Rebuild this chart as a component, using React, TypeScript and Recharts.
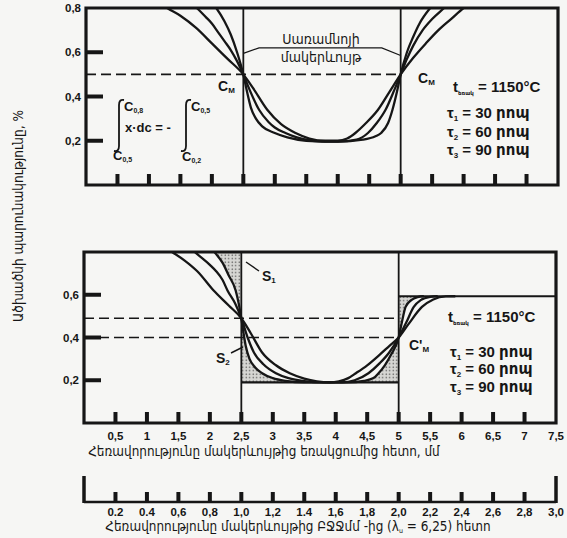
import React from 'react';
import { ComposedChart, Line, Area, XAxis, YAxis, ReferenceLine, ReferenceArea } from 'recharts';

type Pt = [number, number];

// ---- axes ----
const X_MAX = 7.5;
const Y_MAX = 0.8;
const mmTicks = [0.5, 1, 1.5, 2, 2.5, 3, 3.5, 4, 4.5, 5, 5.5, 6, 6.5, 7, 7.5];
const mmTickLabels = ['0,5', '1', '1,5', '2', '2,5', '3', '3,5', '4', '4,5', '5', '5,5', '6', '6,5', '7', '7,5'];
const REL_MAX = 3.0;
const relTicks = [0.2, 0.4, 0.6, 0.8, 1.0, 1.2, 1.4, 1.6, 1.8, 2.0, 2.2, 2.4, 2.6, 2.8, 3.0];
const relTickLabels = ['0.2', '0.4', '0,6', '0,8', '1,0', '1,2', '1.4', '1,6', '1,8', '2,0', '2,2', '2,4', '2,6', '2,8', '3,0'];
const topYTicks = [0.2, 0.4, 0.6, 0.8];
const topYTickLabels = ['0,2', '0,4', '0,6', '0,8'];
const bottomYTicks = [0.2, 0.4, 0.6];
const bottomYTickLabels = ['0,2', '0,4', '0,6'];

// ---- reference levels ----
const interfaces = [2.5, 5];
const topCM = 0.5;
const bottomDashes = [0.49, 0.4];
const bottomFloor = 0.19;
const bottomPlateau = 0.593;
const surfaceLeader: Pt[] = [[2.5, 0.595], [2.75, 0.62], [4.7, 0.62], [5.0, 0.585]];

// ---- top panel: carbon profiles ----
const topTau1: Pt[] = [[1.95, 0.84], [2.07, 0.8], [2.2, 0.74], [2.3, 0.68], [2.4, 0.6], [2.5, 0.5], [2.56, 0.42], [2.62, 0.35], [2.7, 0.3], [2.8, 0.265], [3.0, 0.235], [3.2, 0.215], [3.5, 0.2], [4.0, 0.196], [4.4, 0.205], [4.6, 0.22], [4.69, 0.235], [4.8, 0.28], [4.87, 0.34], [4.94, 0.42], [5.0, 0.5], [5.1, 0.6], [5.2, 0.67], [5.3, 0.73], [5.47, 0.8], [5.56, 0.83]];
const topTau2: Pt[] = [[1.6, 0.84], [1.76, 0.8], [1.9, 0.76], [2.0, 0.73], [2.1, 0.69], [2.2, 0.65], [2.3, 0.61], [2.4, 0.56], [2.5, 0.5], [2.6, 0.43], [2.75, 0.34], [2.9, 0.285], [3.0, 0.26], [3.17, 0.235], [3.35, 0.215], [3.6, 0.2], [4.0, 0.196], [4.3, 0.205], [4.48, 0.235], [4.62, 0.28], [4.76, 0.34], [4.9, 0.43], [5.0, 0.5], [5.1, 0.57], [5.2, 0.63], [5.35, 0.7], [5.5, 0.75], [5.69, 0.8], [5.8, 0.83]];
const topTau3: Pt[] = [[1.1, 0.84], [1.29, 0.8], [1.5, 0.765], [1.75, 0.71], [2.0, 0.64], [2.25, 0.57], [2.5, 0.5], [2.65, 0.44], [2.88, 0.34], [3.1, 0.275], [3.33, 0.235], [3.55, 0.21], [3.8, 0.2], [4.0, 0.2], [4.15, 0.21], [4.28, 0.235], [4.45, 0.28], [4.64, 0.34], [4.82, 0.42], [5.0, 0.5], [5.2, 0.575], [5.4, 0.64], [5.6, 0.7], [5.8, 0.75], [6.0, 0.8], [6.15, 0.83]];

// ---- bottom panel: carbon profiles ----
const botTau1: Pt[] = [[1.95, 0.84], [2.1, 0.79], [2.2, 0.75], [2.3, 0.69], [2.41, 0.62], [2.5, 0.49], [2.53, 0.43], [2.57, 0.36], [2.63, 0.3], [2.72, 0.26], [2.83, 0.233], [3.0, 0.21], [3.2, 0.197], [3.5, 0.19], [4.2, 0.19], [4.45, 0.197], [4.6, 0.21], [4.68, 0.233], [4.78, 0.27], [4.88, 0.32], [5.0, 0.4], [5.05, 0.47], [5.11, 0.543], [5.2, 0.575], [5.3, 0.589], [5.4, 0.593]];
const botTau2: Pt[] = [[1.6, 0.84], [1.8, 0.79], [2.0, 0.74], [2.1, 0.71], [2.2, 0.67], [2.28, 0.62], [2.4, 0.56], [2.5, 0.49], [2.6, 0.4], [2.7, 0.33], [2.85, 0.275], [3.05, 0.233], [3.25, 0.21], [3.5, 0.196], [3.8, 0.19], [4.1, 0.19], [4.3, 0.2], [4.52, 0.233], [4.7, 0.28], [4.85, 0.33], [5.0, 0.4], [5.12, 0.47], [5.24, 0.543], [5.35, 0.575], [5.5, 0.59], [5.62, 0.593]];
const botTau3: Pt[] = [[1.2, 0.84], [1.4, 0.8], [1.6, 0.76], [1.8, 0.71], [2.06, 0.62], [2.3, 0.55], [2.5, 0.49], [2.65, 0.42], [2.83, 0.33], [3.05, 0.27], [3.27, 0.233], [3.5, 0.208], [3.7, 0.195], [3.9, 0.19], [4.05, 0.195], [4.2, 0.21], [4.32, 0.233], [4.5, 0.27], [4.7, 0.32], [4.85, 0.36], [5.0, 0.4], [5.15, 0.46], [5.37, 0.543], [5.55, 0.578], [5.75, 0.592], [5.9, 0.593]];

const INK = '#161616';
const NUM_FONT = '"Liberation Sans", Arial, "DejaVu Sans", sans-serif';
const ARM_FONT = '"DejaVu Sans Condensed", "DejaVu Sans", sans-serif';

const rows = (pts: Pt[]) => pts.map(([x, y]) => ({ x, y }));
const rangeRows = (pts: Pt[], x0: number, x1: number, lo: number | null, hi: number | null) =>
  pts.filter(([x]) => x >= x0 && x <= x1).map(([x, y]) => ({ x, range: [lo ?? y, hi ?? y] }));

const makeXTick = (labels: boolean) => (p: any) => {
  const v = p.payload.value;
  const i = mmTicks.indexOf(v);
  return (
    <g>
      {v < X_MAX && <line x1={p.x} x2={p.x} y1={p.y} y2={p.y - 11} stroke={INK} strokeWidth={4} />}
      {labels && (
        <text x={p.x} y={p.y + 17} textAnchor="middle" fontFamily={NUM_FONT} fontWeight="bold" fontSize={11.5} fill={INK}>
          {mmTickLabels[i]}
        </text>
      )}
    </g>
  );
};

const makeYTick = (ticks: number[], labels: string[]) => (p: any) => {
  const v = p.payload.value;
  const i = ticks.indexOf(v);
  return (
    <g>
      {v < Y_MAX && <line x1={p.x} x2={p.x + 17} y1={p.y} y2={p.y} stroke={INK} strokeWidth={4} />}
      <text x={p.x - 5} y={p.y + 4} textAnchor="end" fontFamily={NUM_FONT} fontWeight="bold" fontSize={11.5} fill={INK}>
        {labels[i]}
      </text>
    </g>
  );
};

const RelTick = (p: any) => {
  const v = p.payload.value;
  const i = relTicks.indexOf(v);
  const isEnd = v <= 0 || v >= REL_MAX;
  return (
    <g>
      <line x1={p.x} x2={p.x} y1={p.y + 1} y2={p.y - (isEnd ? 26 : 10)} stroke={INK} strokeWidth={isEnd ? 3.5 : 4} />
      {i >= 0 && (
        <text x={p.x} y={p.y + 14} textAnchor="middle" fontFamily={NUM_FONT} fontWeight="bold" fontSize={11.5} fill={INK}>
          {relTickLabels[i]}
        </text>
      )}
    </g>
  );
};

const curve = (pts: Pt[], key: string, xAxisId: string | number = 0) => (
  <Line key={key} xAxisId={xAxisId} data={rows(pts)} dataKey="y" type="monotone" dot={false} activeDot={false} stroke={INK} strokeWidth={2.3} isAnimationActive={false} />
);

const stipple = (data: any[], key: string) => (
  <Area key={key} xAxisId="mm" data={data} dataKey="range" type="monotone" stroke="none" fill="url(#stip)" fillOpacity={1} isAnimationActive={false} />
);

export default function App() {
  return (
    <div style={{ position: 'absolute', left: 0, top: 0, width: 567, height: 538, background: '#f6f6f4', overflow: 'hidden' }}>
      {/* top panel */}
      <div style={{ position: 'absolute', left: 0, top: 0 }}>
        <ComposedChart width={567} height={200} margin={{ top: 8, right: 9, bottom: 5, left: 46 }}>
          <XAxis type="number" dataKey="x" domain={[0, X_MAX]} allowDataOverflow ticks={mmTicks.filter((v) => v < X_MAX)} interval={0}
            tickLine={false} tickSize={0} tickMargin={0} axisLine={false} height={10} tick={makeXTick(false)} />
          <YAxis type="number" domain={[0, Y_MAX]} allowDataOverflow ticks={topYTicks} interval={0} width={40}
            tickLine={false} tickSize={0} tickMargin={0} axisLine={false} tick={makeYTick(topYTicks, topYTickLabels)} />
          <ReferenceLine segment={[{ x: 0, y: topCM }, { x: interfaces[1], y: topCM }]} stroke={INK} strokeWidth={1.6} strokeDasharray="10 5" />
          {interfaces.map((x) => (
            <ReferenceLine key={'v' + x} x={x} stroke={INK} strokeWidth={1.8} />
          ))}
          {curve(topTau1, 't1')}
          {curve(topTau2, 't2')}
          {curve(topTau3, 't3')}
          <Line data={rows(surfaceLeader)} dataKey="y" type="linear" dot={false} activeDot={false} stroke={INK} strokeWidth={1.2} isAnimationActive={false} />
          <ReferenceArea x1={0} x2={X_MAX} y1={0} y2={Y_MAX} fill="none" fillOpacity={0} stroke={INK} strokeWidth={3.2} />
        </ComposedChart>
      </div>

      {/* bottom panel with both distance scales */}
      <div style={{ position: 'absolute', left: 0, top: 240 }}>
        <ComposedChart width={567} height={298} margin={{ top: 12, right: 11, bottom: 16, left: 44 }}>
          <defs>
            <pattern id="stip" width="3.5" height="3.5" patternUnits="userSpaceOnUse">
              <rect width="3.5" height="3.5" fill="#d6d6d3" />
              <circle cx="1.2" cy="1.2" r="0.7" fill="#444" />
            </pattern>
          </defs>
          <XAxis xAxisId="mm" type="number" dataKey="x" domain={[0, X_MAX]} allowDataOverflow ticks={mmTicks} interval={0}
            tickLine={false} tickSize={0} tickMargin={0} axisLine={false} height={79} tick={makeXTick(true)} />
          <XAxis xAxisId="rel" type="number" dataKey="x" domain={[0, REL_MAX]} allowDataOverflow ticks={[0, ...relTicks]} interval={0}
            tickLine={false} tickSize={0} tickMargin={0} height={20} axisLine={{ stroke: INK, strokeWidth: 2.5 }} tick={RelTick} />
          <YAxis type="number" domain={[0, Y_MAX]} allowDataOverflow ticks={bottomYTicks} interval={0} width={40}
            tickLine={false} tickSize={0} tickMargin={0} axisLine={false} tick={makeYTick(bottomYTicks, bottomYTickLabels)} />
          {stipple(rangeRows(botTau1, 2.1, 2.5, null, Y_MAX), 's1')}
          {stipple(rangeRows(botTau1, 2.5, 3.2, bottomFloor, null), 's2')}
          {stipple(rangeRows(botTau1, 4.45, 5.0, bottomFloor, null), 's3')}
          {stipple(rangeRows(botTau1, 5.0, 5.4, null, bottomPlateau), 's4')}
          {bottomDashes.map((y) => (
            <ReferenceLine key={'d' + y} xAxisId="mm" segment={[{ x: 0, y }, { x: interfaces[1], y }]} stroke={INK} strokeWidth={1.6} strokeDasharray="10 5" />
          ))}
          {interfaces.map((x) => (
            <ReferenceLine key={'v' + x} xAxisId="mm" x={x} stroke={INK} strokeWidth={1.8} />
          ))}
          <ReferenceLine xAxisId="mm" segment={[{ x: interfaces[0], y: bottomFloor }, { x: interfaces[1], y: bottomFloor }]} stroke={INK} strokeWidth={2.2} />
          <ReferenceLine xAxisId="mm" segment={[{ x: interfaces[1], y: bottomPlateau }, { x: X_MAX, y: bottomPlateau }]} stroke={INK} strokeWidth={2.2} />
          {curve(botTau1, 'b1', 'mm')}
          {curve(botTau2, 'b2', 'mm')}
          {curve(botTau3, 'b3', 'mm')}
          <ReferenceArea xAxisId="mm" x1={0} x2={X_MAX} y1={0} y2={Y_MAX} fill="none" fillOpacity={0} stroke={INK} strokeWidth={3.2} />
        </ComposedChart>
      </div>

      {/* annotations */}
      <svg width={567} height={538} style={{ position: 'absolute', left: 0, top: 0, pointerEvents: 'none' }}>
        <text transform="translate(23,216) rotate(-90)" textAnchor="middle" fontFamily={ARM_FONT} fontSize={13.5} fill={INK}>
          Ածխածնի պարունակությունը, %
        </text>

        {/* top panel text */}
        <text x={321} y={44} textAnchor="middle" fontFamily={ARM_FONT} fontSize={14} fill={INK}>Սառամնոյի</text>
        <text x={321} y={62} textAnchor="middle" fontFamily={ARM_FONT} fontSize={14} fill={INK}>մակերևույթ</text>

        <g fontFamily={NUM_FONT} fontWeight="bold" fill={INK}>
          <text x={218} y={91} fontSize={14}>C<tspan fontSize={8} dy={2}>М</tspan></text>
          <text x={418} y={83} fontSize={14}>C<tspan fontSize={8} dy={2}>М</tspan></text>

          <text x={453} y={92} fontSize={15}>t<tspan fontSize={5.5} dy={3}>եռակ</tspan><tspan dy={-3}> = 1150°C</tspan></text>
          <text x={447} y={118} fontSize={15}>τ<tspan fontSize={8} dy={3}>1</tspan><tspan dy={-3}> = 30 րոպ</tspan></text>
          <text x={447} y={137} fontSize={15}>τ<tspan fontSize={8} dy={3}>2</tspan><tspan dy={-3}> = 60 րոպ</tspan></text>
          <text x={447} y={155} fontSize={15}>τ<tspan fontSize={8} dy={3}>3</tspan><tspan dy={-3}> = 90 րոպ</tspan></text>

          {/* integral relation */}
          <text x={124} y={111} fontSize={13}>C<tspan fontSize={7} dy={2}>0,8</tspan></text>
          <text x={113} y={160} fontSize={13}>C<tspan fontSize={7} dy={2}>0,5</tspan></text>
          <text x={125} y={132} fontSize={13}>x·dc = -</text>
          <text x={191} y={111} fontSize={13}>C<tspan fontSize={7} dy={2}>0,5</tspan></text>
          <text x={182} y={161} fontSize={13}>C<tspan fontSize={7} dy={2}>0,2</tspan></text>

          {/* bottom panel text */}
          <text x={262} y={281} fontSize={14}>S<tspan fontSize={8} dy={2}>1</tspan></text>
          <text x={216} y={363} fontSize={14}>S<tspan fontSize={8} dy={2}>2</tspan></text>
          <text x={409} y={350} fontSize={14}>C'<tspan fontSize={8} dy={2}>М</tspan></text>
          <text x={448} y={322} fontSize={15}>t<tspan fontSize={5.5} dy={3}>եռակ</tspan><tspan dy={-3}> = 1150°C</tspan></text>
          <text x={450} y={357} fontSize={15}>τ<tspan fontSize={8} dy={3}>1</tspan><tspan dy={-3}> = 30 րոպ</tspan></text>
          <text x={450} y={374} fontSize={15}>τ<tspan fontSize={8} dy={3}>2</tspan><tspan dy={-3}> = 60 րոպ</tspan></text>
          <text x={450} y={392} fontSize={15}>τ<tspan fontSize={8} dy={3}>3</tspan><tspan dy={-3}> = 90 րոպ</tspan></text>
        </g>
        <path d="M124,100 Q119,99 119,105 L119,146 Q119,152 114,151" stroke={INK} strokeWidth={1.8} fill="none" />
        <path d="M191,100 Q186,99 186,105 L186,146 Q186,152 181,151" stroke={INK} strokeWidth={1.8} fill="none" />
        <line x1={246} y1={262} x2={259} y2={271} stroke={INK} strokeWidth={1.4} />
        <line x1={231} y1={353} x2={243} y2={347} stroke={INK} strokeWidth={1.4} />

        {/* axis captions */}
        <text x={264} y={456} textAnchor="middle" fontFamily={ARM_FONT} fontSize={13.4} fill={INK}>
          Հեռավորությունը մակերևույթից եռակցումից հետո, մմ
        </text>
        <text x={298} y={531} textAnchor="middle" fontFamily={ARM_FONT} fontSize={13.4} fill={INK}>
          Հեռավորությունը մակերևույթից ԲՋՋմմ -ից (λ<tspan fontSize={7} dy={2}>ս</tspan><tspan dy={-2}> = 6,25) հետո</tspan>
        </text>
      </svg>
    </div>
  );
}
